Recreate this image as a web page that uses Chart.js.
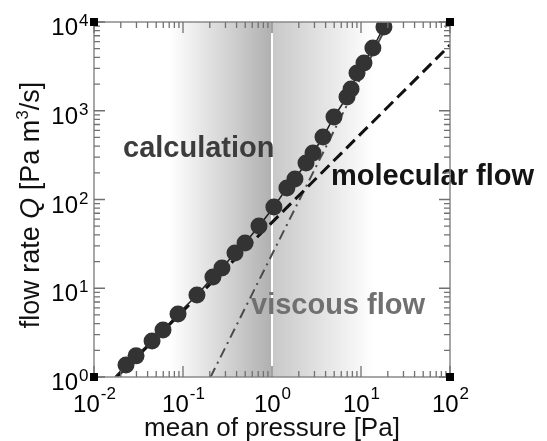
<!DOCTYPE html>
<html>
<head>
<meta charset="utf-8">
<script src="https://cdn.jsdelivr.net/npm/chart.js@4.4.1/dist/chart.umd.min.js"></script>
<style>
html,body{margin:0;padding:0;background:#fff;}
#c{display:block;}
</style>
</head>
<body>
<canvas id="c" width="547" height="441"></canvas>
<script>
// ---- data ----
const pressure = [0.0229, 0.0297, 0.0449, 0.0596, 0.0879, 0.1435, 0.217, 0.274, 0.384, 0.498,
                  0.714, 1.05, 1.47, 1.81, 2.41, 2.89, 3.74, 4.97, 6.96, 7.73, 9.02, 10.8, 13.6, 18.1];
const flowRate = [1.365, 1.73, 2.55, 3.39, 5.13, 8.40, 13.4, 16.9, 24.9, 32.4,
                  50.3, 82.3, 135, 170, 258, 334, 506, 851, 1429, 1758, 2662, 3451, 5094, 8790];
const calcStartX = [0.0172];
const calcStartY = [1];
const molecularX = [0.018, 100];
const molecularY = [1, 5500];
const viscousX = [0.204, 20.4];
const viscousY = [1, 10000];
const xTickValues = [0.01, 0.1, 1, 10, 100];
const xTickExps = ['-2', '-1', '0', '1', '2'];
const yTickValues = [1, 10, 100, 1000, 10000];
const yTickExps = ['0', '1', '2', '3', '4'];
const shadeRange = [0.072, 1, 14];

const pts = (xs, ys) => xs.map((x, i) => ({x: x, y: ys[i]}));

const FONT = '"Liberation Sans", Arial, Helvetica, sans-serif';

const decorPlugin = {
  id: 'decor',
  beforeDatasetsDraw(chart) {
    const ctx = chart.ctx, a = chart.chartArea, xs = chart.scales.x;
    const x0 = xs.getPixelForValue(shadeRange[0]);
    const x1 = xs.getPixelForValue(shadeRange[1]);
    const x2 = xs.getPixelForValue(shadeRange[2]);
    ctx.save();
    let g = ctx.createLinearGradient(x0, 0, x1, 0);
    g.addColorStop(0, 'rgba(176,176,176,0)');
    g.addColorStop(1, 'rgb(176,176,176)');
    ctx.fillStyle = g;
    ctx.fillRect(x0, a.top, x1 - x0, a.bottom - a.top);
    g = ctx.createLinearGradient(x1, 0, x2, 0);
    g.addColorStop(0, 'rgb(200,200,200)');
    g.addColorStop(1, 'rgba(200,200,200,0)');
    ctx.fillStyle = g;
    ctx.fillRect(x1, a.top, x2 - x1, a.bottom - a.top);
    ctx.strokeStyle = '#ffffff';
    ctx.lineWidth = 2;
    ctx.beginPath();
    ctx.moveTo(x1, a.top); ctx.lineTo(x1, a.bottom);
    ctx.stroke();
    ctx.restore();
  },
  afterDatasetsDraw(chart) {
    const ctx = chart.ctx, a = chart.chartArea, xs = chart.scales.x, ys = chart.scales.y;
    ctx.save();
    // annotations
    ctx.textBaseline = 'alphabetic';
    ctx.textAlign = 'left';
    ctx.font = 'bold 29px ' + FONT;
    ctx.fillStyle = '#3c3c3c';
    ctx.fillText('calculation', 123, 157);
    ctx.fillStyle = '#141414';
    ctx.fillText('molecular flow', 331, 185);
    ctx.fillStyle = '#707070';
    ctx.fillText('viscous flow', 251, 314);

    // frame
    ctx.strokeStyle = '#8a8a8a';
    ctx.lineWidth = 1.5;
    ctx.strokeRect(a.left, a.top, a.right - a.left, a.bottom - a.top);
    // ticks
    ctx.strokeStyle = '#707070';
    ctx.lineWidth = 1.3;
    ctx.beginPath();
    for (let d = 0; d < xTickValues.length; d++) {
      const base = xTickValues[d];
      for (let m = 1; m <= 9; m++) {
        const v = base * m;
        if (v > xTickValues[xTickValues.length - 1]) break;
        const px = xs.getPixelForValue(v);
        const L = m === 1 ? 11 : 6;
        ctx.moveTo(px, a.bottom); ctx.lineTo(px, a.bottom - L);
        ctx.moveTo(px, a.top); ctx.lineTo(px, a.top + L);
      }
    }
    for (let d = 0; d < yTickValues.length; d++) {
      const base = yTickValues[d];
      for (let m = 1; m <= 9; m++) {
        const v = base * m;
        if (v > yTickValues[yTickValues.length - 1]) break;
        const py = ys.getPixelForValue(v);
        const L = m === 1 ? 11 : 6;
        ctx.moveTo(a.left, py); ctx.lineTo(a.left + L, py);
        ctx.moveTo(a.right, py); ctx.lineTo(a.right - L, py);
      }
    }
    ctx.stroke();
    // corner squares
    ctx.fillStyle = '#000';
    [[a.left, a.top], [a.right, a.top], [a.left, a.bottom], [a.right, a.bottom]].forEach(p => {
      ctx.fillRect(p[0] - 4, p[1] - 4, 8, 8);
    });

    // tick labels
    ctx.fillStyle = '#000';
    const bigF = '24px ' + FONT, supF = '17px ' + FONT;
    xTickValues.forEach((v, i) => {
      const px = xs.getPixelForValue(v);
      ctx.font = bigF; const w1 = ctx.measureText('10').width;
      ctx.font = supF; const w2 = ctx.measureText(xTickExps[i]).width;
      const left = px - (w1 + w2) / 2;
      ctx.font = bigF; ctx.fillText('10', left, a.bottom + 35);
      ctx.font = supF; ctx.fillText(xTickExps[i], left + w1 + 1, a.bottom + 22);
    });
    yTickValues.forEach((v, i) => {
      const py = ys.getPixelForValue(v);
      ctx.font = bigF; const w1 = ctx.measureText('10').width;
      ctx.fillText('10', 78 - w1, py + 13);
      ctx.font = supF; ctx.fillText(yTickExps[i], 79, py + 4);
    });

    // axis titles
    ctx.fillStyle = '#111';
    ctx.font = '26px ' + FONT;
    ctx.textAlign = 'center';
    ctx.fillText('mean of pressure [Pa]', (a.left + a.right) / 2, 436);

    // y title: pieces
    const parts = [
      {t: 'flow rate ', f: '27px ' + FONT, dy: 0},
      {t: 'Q', f: 'italic 27px ' + FONT, dy: 0},
      {t: ' [Pa m', f: '27px ' + FONT, dy: 0},
      {t: '3', f: '17px ' + FONT, dy: -11},
      {t: '/s]', f: '27px ' + FONT, dy: 0}
    ];
    let total = 0;
    parts.forEach(p => { ctx.font = p.f; p.w = ctx.measureText(p.t).width; total += p.w; });
    ctx.translate(39, 205);
    ctx.rotate(-Math.PI / 2);
    ctx.textAlign = 'left';
    let cx = -total / 2;
    parts.forEach(p => { ctx.font = p.f; ctx.fillText(p.t, cx, p.dy); cx += p.w; });
    ctx.restore();
  }
};

new Chart(document.getElementById('c'), {
  type: 'scatter',
  data: {
    datasets: [
      {
        label: 'calculation points',
        data: pts(pressure, flowRate),
        pointRadius: 8.5,
        pointBackgroundColor: '#333333',
        pointBorderWidth: 0,
        showLine: false,
        order: 0
      },
      {
        label: 'calculation curve',
        data: pts(calcStartX.concat(pressure), calcStartY.concat(flowRate)),
        showLine: true,
        borderColor: '#1e1e1e',
        borderWidth: 1.5,
        pointRadius: 0,
        order: 1
      },
      {
        label: 'molecular flow',
        data: pts(molecularX, molecularY),
        showLine: true,
        borderColor: '#111',
        borderWidth: 3,
        borderDash: [12, 6],
        pointRadius: 0,
        order: 2
      },
      {
        label: 'viscous flow',
        data: pts(viscousX, viscousY),
        showLine: true,
        borderColor: '#4a4a4a',
        borderWidth: 2,
        borderDash: [10, 5, 2, 5],
        pointRadius: 0,
        order: 3
      }
    ]
  },
  options: {
    responsive: false,
    animation: false,
    devicePixelRatio: 1,
    layout: {padding: {left: 94, right: 97, top: 22, bottom: 64}},
    scales: {
      x: {type: 'logarithmic', min: 0.01, max: 100, display: false},
      y: {type: 'logarithmic', min: 1, max: 10000, display: false}
    },
    plugins: {legend: {display: false}, tooltip: {enabled: false}}
  },
  plugins: [decorPlugin]
});
</script>
</body>
</html>
